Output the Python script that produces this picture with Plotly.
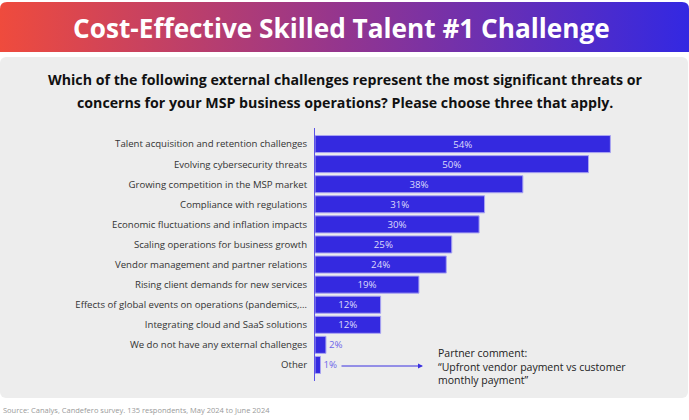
import base64
import plotly.graph_objects as go

categories = [
    "Talent acquisition and retention challenges",
    "Evolving cybersecurity threats",
    "Growing competition in the MSP market",
    "Compliance with regulations",
    "Economic fluctuations and inflation impacts",
    "Scaling operations for business growth",
    "Vendor management and partner relations",
    "Rising client demands for new services",
    "Effects of global events on operations (pandemics,…",
    "Integrating cloud and SaaS solutions",
    "We do not have any external challenges",
    "Other",
]
values = [54, 50, 38, 31, 30, 25, 24, 19, 12, 12, 2, 1]

title_text = "Cost-Effective Skilled Talent #1 Challenge"
question_lines = ["Which of the following external challenges represent the most significant threats or",
                  "concerns for your MSP business operations? Please choose three that apply."]
comment_text = "Partner comment:<br>“Upfront vendor payment vs customer<br>monthly payment”"
source_text = "Source: Canalys, Candefero survey. 135 respondents, May 2024 to June 2024"

W, H = 689, 420

svg = f'''<svg xmlns="http://www.w3.org/2000/svg" width="{W}" height="{H}" viewBox="0 0 {W} {H}">
<defs><linearGradient id="g" x1="0" y1="0" x2="1" y2="0">
<stop offset="0" stop-color="#ef4b3d"/><stop offset="0.5" stop-color="#93358f"/><stop offset="1" stop-color="#3328e2"/>
</linearGradient></defs>
<path d="M0,52 L0,9 Q0,2 7,2 L682,2 Q689,2 689,9 L689,52 Z" fill="url(#g)"/>
<rect x="0" y="57" width="688" height="341" rx="6" ry="6" fill="#ededed"/>
</svg>'''
src = "data:image/svg+xml;base64," + base64.b64encode(svg.encode()).decode()

def px_y(y):
    return 1 - y / H

def px_x(x):
    return x / W

bar_color = "#3429e0"
fig = go.Figure()
fig.add_trace(go.Bar(
    x=values, y=categories, orientation="h",
    marker=dict(color=bar_color, line=dict(color="#a9a4f2", width=1)),
    width=0.85,
    text=[f"{v}%" for v in values],
    textposition="auto",
    insidetextanchor="middle",
    constraintext="none",
    insidetextfont=dict(color="#dcdafb", size=9.7, family="Open Sans"),
    outsidetextfont=dict(color="#6d66ea", size=9.7, family="Open Sans"),
    textangle=0,
    cliponaxis=False,
    hoverinfo="skip",
))

x0 = 315
scale = 5.47
xmax = (W - x0) / scale

fig.update_layout(
    width=W, height=H,
    margin=dict(l=0, r=0, t=0, b=0),
    paper_bgcolor="white",
    plot_bgcolor="rgba(0,0,0,0)",
    showlegend=False,
    xaxis=dict(domain=[px_x(x0), 1], range=[0, xmax], visible=False, fixedrange=True),
    yaxis=dict(
        domain=[px_y(381), px_y(128)],
        type="category",
        range=[11.8, -0.8],
        showline=True, linecolor="#5b53e6", linewidth=1,
        ticks="", showgrid=False, zeroline=False,
        tickfont=dict(family="Open Sans", size=9.6, color="#333333"),
        ticklabelstandoff=5,
    ),
    images=[dict(source=src, xref="paper", yref="paper", x=0, y=1, sizex=1, sizey=1,
                 xanchor="left", yanchor="top", sizing="stretch", layer="below")],
)

fig.add_annotation(text=f"<b>{title_text}</b>", xref="paper", yref="paper",
                   x=px_x(341), y=px_y(28), xanchor="center", yanchor="middle", showarrow=False,
                   font=dict(family="Open Sans", size=26.2, color="white"))
for i, line in enumerate(question_lines):
    fig.add_annotation(text=f"<b>{line}</b>", xref="paper", yref="paper",
                       x=px_x(345), y=px_y(79 + 23 * i), xanchor="center", yanchor="middle",
                       showarrow=False, font=dict(family="Open Sans", size=14.2, color="#111111"))
fig.add_annotation(text="", xref="paper", yref="paper", x=px_x(423), y=px_y(366),
                   ax=-83, ay=0, axref="pixel", ayref="pixel", showarrow=True,
                   arrowhead=2, arrowsize=1, arrowwidth=1, arrowcolor="#3a30e0")
fig.add_annotation(text=comment_text, xref="paper", yref="paper",
                   x=px_x(436), y=px_y(366), xanchor="left", yanchor="middle", showarrow=False,
                   align="left", font=dict(family="Open Sans", size=10.5, color="#222222"))
fig.add_annotation(text=source_text, xref="paper", yref="paper",
                   x=px_x(1), y=px_y(410), xanchor="left", yanchor="middle", showarrow=False,
                   font=dict(family="Open Sans", size=7.5, color="#9a9a9a"))

fig.write_html("out.html")
